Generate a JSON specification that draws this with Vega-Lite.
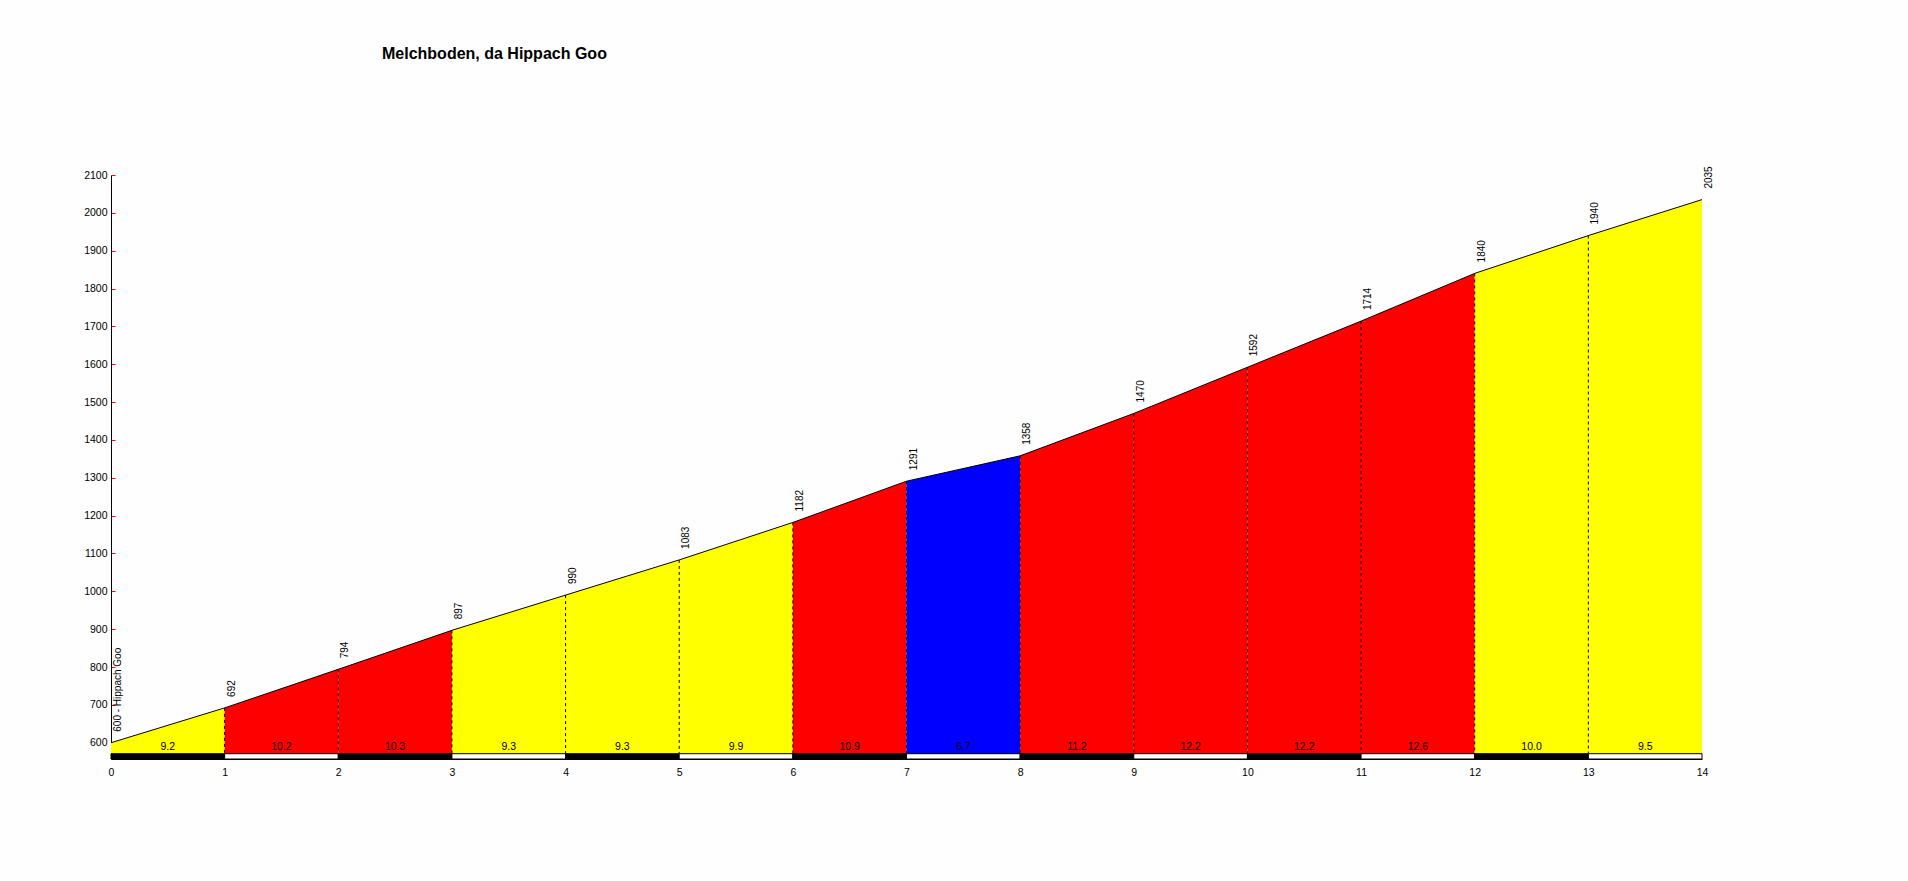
{
  "$schema": "https://vega.github.io/schema/vega-lite/v6.json",
  "autosize": "none",
  "width": 1591,
  "height": 584,
  "padding": {"left": 111, "top": 175, "right": 206, "bottom": 122},
  "background": "#fdfefd",
  "title": {
    "text": "Melchboden, da Hippach Goo",
    "anchor": "start",
    "frame": "group",
    "orient": "top",
    "dx": 271,
    "offset": 91,
    "baseline": "alphabetic",
    "font": "Liberation Sans",
    "fontSize": 16,
    "fontWeight": "bold",
    "color": "#000000"
  },
  "config": {
    "view": {"stroke": null},
    "axisX": {
      "format": "d",
      "ticks": false,
      "grid": false,
      "title": null,
      "domainColor": "#000000",
      "labelColor": "#000000",
      "labelFont": "Liberation Sans",
      "labelFontSize": 10.5,
      "labelPadding": 8,
      "labelOverlap": false,
      "labelFlush": false
    },
    "axisY": {
      "format": "d",
      "ticks": true,
      "tickColor": "#ff0000",
      "tickSize": -4,
      "grid": false,
      "title": null,
      "domainColor": "#000000",
      "labelColor": "#000000",
      "labelFont": "Liberation Sans",
      "labelFontSize": 10.5,
      "labelPadding": 8,
      "labelOverlap": false,
      "labelFlush": false
    }
  },
  "datasets": {
    "segments": [
      {"seg": 0, "km0": 0, "km1": 1, "mid": 0.5, "grad": "9.2", "parity": "a"},
      {"seg": 1, "km0": 1, "km1": 2, "mid": 1.5, "grad": "10.2", "parity": "b"},
      {"seg": 2, "km0": 2, "km1": 3, "mid": 2.5, "grad": "10.3", "parity": "a"},
      {"seg": 3, "km0": 3, "km1": 4, "mid": 3.5, "grad": "9.3", "parity": "b"},
      {"seg": 4, "km0": 4, "km1": 5, "mid": 4.5, "grad": "9.3", "parity": "a"},
      {"seg": 5, "km0": 5, "km1": 6, "mid": 5.5, "grad": "9.9", "parity": "b"},
      {"seg": 6, "km0": 6, "km1": 7, "mid": 6.5, "grad": "10.9", "parity": "a"},
      {"seg": 7, "km0": 7, "km1": 8, "mid": 7.5, "grad": "6.7", "parity": "b"},
      {"seg": 8, "km0": 8, "km1": 9, "mid": 8.5, "grad": "11.2", "parity": "a"},
      {"seg": 9, "km0": 9, "km1": 10, "mid": 9.5, "grad": "12.2", "parity": "b"},
      {"seg": 10, "km0": 10, "km1": 11, "mid": 10.5, "grad": "12.2", "parity": "a"},
      {"seg": 11, "km0": 11, "km1": 12, "mid": 11.5, "grad": "12.6", "parity": "b"},
      {"seg": 12, "km0": 12, "km1": 13, "mid": 12.5, "grad": "10.0", "parity": "a"},
      {"seg": 13, "km0": 13, "km1": 14, "mid": 13.5, "grad": "9.5", "parity": "b"}
    ],
    "profile": [
      {"seg": 0, "km": 0, "elev": 600, "cls": "medium"},
      {"seg": 0, "km": 1, "elev": 692, "cls": "medium"},
      {"seg": 1, "km": 1, "elev": 692, "cls": "hard"},
      {"seg": 1, "km": 2, "elev": 794, "cls": "hard"},
      {"seg": 2, "km": 2, "elev": 794, "cls": "hard"},
      {"seg": 2, "km": 3, "elev": 897, "cls": "hard"},
      {"seg": 3, "km": 3, "elev": 897, "cls": "medium"},
      {"seg": 3, "km": 4, "elev": 990, "cls": "medium"},
      {"seg": 4, "km": 4, "elev": 990, "cls": "medium"},
      {"seg": 4, "km": 5, "elev": 1083, "cls": "medium"},
      {"seg": 5, "km": 5, "elev": 1083, "cls": "medium"},
      {"seg": 5, "km": 6, "elev": 1182, "cls": "medium"},
      {"seg": 6, "km": 6, "elev": 1182, "cls": "hard"},
      {"seg": 6, "km": 7, "elev": 1291, "cls": "hard"},
      {"seg": 7, "km": 7, "elev": 1291, "cls": "easy"},
      {"seg": 7, "km": 8, "elev": 1358, "cls": "easy"},
      {"seg": 8, "km": 8, "elev": 1358, "cls": "hard"},
      {"seg": 8, "km": 9, "elev": 1470, "cls": "hard"},
      {"seg": 9, "km": 9, "elev": 1470, "cls": "hard"},
      {"seg": 9, "km": 10, "elev": 1592, "cls": "hard"},
      {"seg": 10, "km": 10, "elev": 1592, "cls": "hard"},
      {"seg": 10, "km": 11, "elev": 1714, "cls": "hard"},
      {"seg": 11, "km": 11, "elev": 1714, "cls": "hard"},
      {"seg": 11, "km": 12, "elev": 1840, "cls": "hard"},
      {"seg": 12, "km": 12, "elev": 1840, "cls": "medium"},
      {"seg": 12, "km": 13, "elev": 1940, "cls": "medium"},
      {"seg": 13, "km": 13, "elev": 1940, "cls": "medium"},
      {"seg": 13, "km": 14, "elev": 2035, "cls": "medium"}
    ],
    "points": [
      {"km": 0, "elev": 600, "label": "600 - Hippach Goo"},
      {"km": 1, "elev": 692, "label": "692"},
      {"km": 2, "elev": 794, "label": "794"},
      {"km": 3, "elev": 897, "label": "897"},
      {"km": 4, "elev": 990, "label": "990"},
      {"km": 5, "elev": 1083, "label": "1083"},
      {"km": 6, "elev": 1182, "label": "1182"},
      {"km": 7, "elev": 1291, "label": "1291"},
      {"km": 8, "elev": 1358, "label": "1358"},
      {"km": 9, "elev": 1470, "label": "1470"},
      {"km": 10, "elev": 1592, "label": "1592"},
      {"km": 11, "elev": 1714, "label": "1714"},
      {"km": 12, "elev": 1840, "label": "1840"},
      {"km": 13, "elev": 1940, "label": "1940"},
      {"km": 14, "elev": 2035, "label": "2035"}
    ]
  },
  "layer": [
    {
      "data": {"name": "profile"},
      "mark": {"type": "area", "interpolate": "linear"},
      "encoding": {
        "x": {"field": "km", "type": "quantitative",
          "scale": {"domain": [0, 14], "nice": false, "zero": false},
          "axis": {"values": [0,1,2,3,4,5,6,7,8,9,10,11,12,13,14]}},
        "y": {"field": "elev", "type": "quantitative",
          "scale": {"domain": [557, 2100], "nice": false, "zero": false},
          "axis": {"values": [600,700,800,900,1000,1100,1200,1300,1400,1500,1600,1700,1800,1900,2000,2100]}},
        "y2": {"datum": 557},
        "detail": {"field": "seg"},
        "color": {"field": "cls", "type": "nominal", "legend": null,
          "scale": {"domain": ["medium", "hard", "easy"], "range": ["#ffff00", "#ff0000", "#0000ff"]}}
      }
    },
    {
      "data": {"name": "points"},
      "transform": [{"filter": "datum.km > 0 && datum.km < 14"}],
      "mark": {"type": "rule", "color": "#000000", "strokeWidth": 1, "strokeDash": [3, 3]},
      "encoding": {
        "x": {"field": "km", "type": "quantitative", "axis": {"values": [0,1,2,3,4,5,6,7,8,9,10,11,12,13,14]}},
        "y": {"field": "elev", "type": "quantitative", "axis": {"values": [600,700,800,900,1000,1100,1200,1300,1400,1500,1600,1700,1800,1900,2000,2100]}},
        "y2": {"datum": 571}
      }
    },
    {
      "data": {"name": "points"},
      "mark": {"type": "line", "color": "#000000", "strokeWidth": 1},
      "encoding": {
        "x": {"field": "km", "type": "quantitative", "axis": {"values": [0,1,2,3,4,5,6,7,8,9,10,11,12,13,14]}},
        "y": {"field": "elev", "type": "quantitative", "axis": {"values": [600,700,800,900,1000,1100,1200,1300,1400,1500,1600,1700,1800,1900,2000,2100]}}
      }
    },
    {
      "data": {"name": "segments"},
      "mark": {"type": "rect", "stroke": "#000000", "strokeWidth": 1},
      "encoding": {
        "x": {"field": "km0", "type": "quantitative", "axis": {"values": [0,1,2,3,4,5,6,7,8,9,10,11,12,13,14]}},
        "x2": {"field": "km1"},
        "y": {"datum": 571, "type": "quantitative", "axis": {"values": [600,700,800,900,1000,1100,1200,1300,1400,1500,1600,1700,1800,1900,2000,2100]}},
        "y2": {"datum": 557},
        "fill": {"field": "parity", "type": "nominal", "legend": null,
          "scale": {"domain": ["a", "b"], "range": ["#000000", "#ffffff"]}}
      }
    },
    {
      "data": {"name": "segments"},
      "mark": {"type": "text", "font": "Liberation Sans", "fontSize": 10.5, "color": "#000000", "baseline": "alphabetic", "align": "center", "dy": -4},
      "encoding": {
        "x": {"field": "mid", "type": "quantitative", "axis": {"values": [0,1,2,3,4,5,6,7,8,9,10,11,12,13,14]}},
        "y": {"datum": 571, "type": "quantitative", "axis": {"values": [600,700,800,900,1000,1100,1200,1300,1400,1500,1600,1700,1800,1900,2000,2100]}},
        "text": {"field": "grad"}
      }
    },
    {
      "data": {"name": "points"},
      "mark": {"type": "text", "font": "Liberation Sans", "fontSize": 10, "color": "#000000", "angle": 270, "align": "left", "baseline": "middle", "dx": 11, "dy": 7},
      "encoding": {
        "x": {"field": "km", "type": "quantitative", "axis": {"values": [0,1,2,3,4,5,6,7,8,9,10,11,12,13,14]}},
        "y": {"field": "elev", "type": "quantitative", "axis": {"values": [600,700,800,900,1000,1100,1200,1300,1400,1500,1600,1700,1800,1900,2000,2100]}},
        "text": {"field": "label"}
      }
    }
  ]
}
